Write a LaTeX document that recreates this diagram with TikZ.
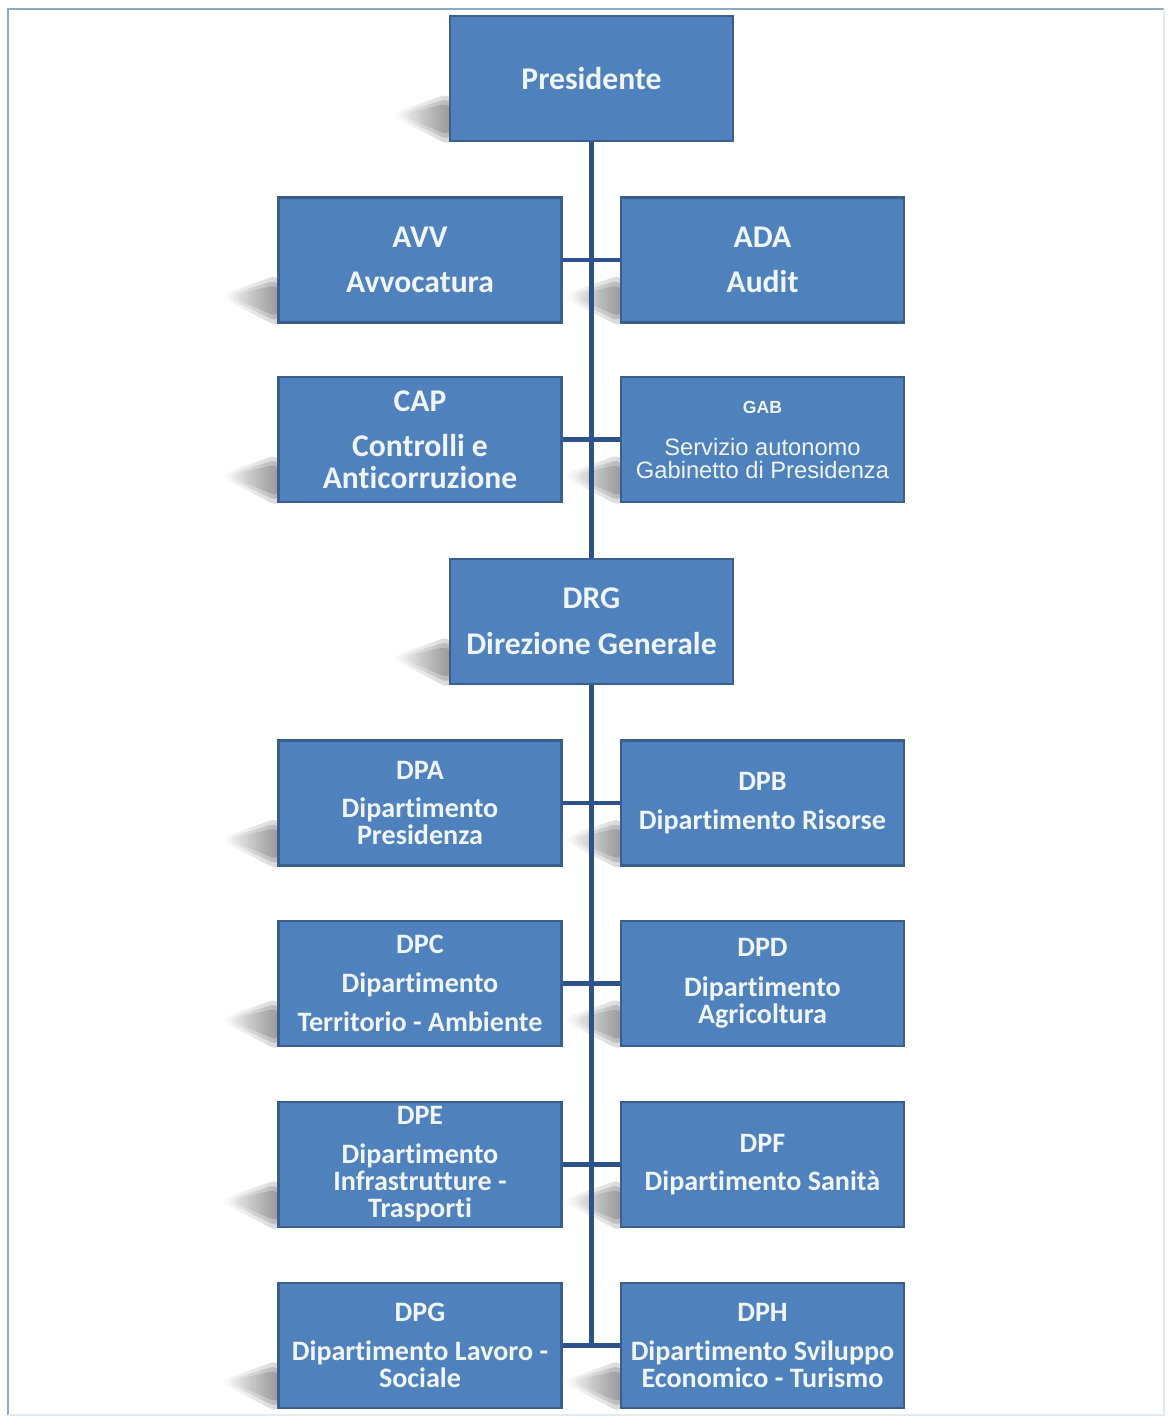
\documentclass[tikz,border=0pt]{standalone}
\usepackage{fontspec}
\setmainfont{Carlito}[Ligatures=NoCommon]
\newfontfamily\gabFont{Liberation Sans}
\usetikzlibrary{fadings}
\tikzstyle{orgChart} = [x = .02cm, y = -.02cm]
\definecolor{boxColor}{RGB}{79,129,189}
\definecolor{boxEdge}{RGB}{58,95,142}
\definecolor{lineColor}{RGB}{44,82,140}
\definecolor{labelColor}{RGB}{240,245,251}
\definecolor{frameColor}{RGB}{140,168,194}
\tikzstyle{boxStyle} = [fill=boxColor, draw=boxEdge, line width=1.2pt, minimum width=5.66cm, minimum height=2.5cm, inner sep=0pt, align=center, text=labelColor]
\tikzstyle{lineStyle} = [color=lineColor, line width=2.3pt]
\tikzstyle{shadowStyle} = [fill=black, opacity=.16, rounded corners=6, path fading=west]
\tikzstyle{frameStyle} = [color=frameColor, line width=1pt]
\newcommand{\bigText}{\fontsize{18}{20}\bfseries\selectfont}
\newcommand{\deptText}{\fontsize{16}{15.5}\bfseries\selectfont}
\newcommand{\smallText}{\gabFont\fontsize{13.5}{13}\selectfont}
\newcommand{\orgBox}[5]{
  \foreach \grow in {0,5,10} {
    \fill [shadowStyle] (#2 - 140, #3 + 24 - \grow) -- (#2 - 192 - \grow, #3 + 36) -- (#2 - 140, #3 + 58 + \grow) -- cycle;
  }
  \node [boxStyle, font=#4] (#1) at (#2, #3) {#5};
}

\begin{document}
\begin{tikzpicture}[orgChart]
  \useasboundingbox (0,0) rectangle (1168,1417);
  \draw [frameStyle] (8,1415) -- (8,9) -- (1164,9);
  \draw [frameStyle, color=frameColor!25] (1164,9) -- (1164,1415) -- (8,1415);

  % top of the chart
  \orgBox{pres}{591.5}{78.5}{\bigText}{Presidente}
  \orgBox{avv}{420}{260}{\bigText}{AVV\\[6pt]Avvocatura}
  \orgBox{ada}{762.5}{260}{\bigText}{ADA\\[6pt]Audit}
  \orgBox{cap}{420}{439.5}{\bigText}{CAP\\[6pt]Controlli e\\[-2pt]Anticorruzione}
  \orgBox{gab}{762.5}{439.5}{\smallText}{{\fontsize{10}{12}\bfseries\selectfont GAB}\\[11pt]Servizio autonomo\\Gabinetto di Presidenza}
  \orgBox{drg}{591.5}{621.5}{\bigText}{DRG\\[6pt]Direzione Generale}

  % departments
  \orgBox{dpa}{420}{803}{\deptText}{DPA\\[6pt]Dipartimento\\Presidenza}
  \orgBox{dpb}{762.5}{803}{\deptText}{DPB\\[6.5pt]Dipartimento Risorse}
  \orgBox{dpc}{420}{983.5}{\deptText}{DPC\\[6.5pt]Dipartimento\\[6.5pt]Territorio - Ambiente}
  \orgBox{dpd}{762.5}{983.5}{\deptText}{DPD\\[7pt]Dipartimento\\Agricoltura}
  \orgBox{dpe}{420}{1164.5}{\deptText}{DPE\\[6.5pt]Dipartimento\\Infrastrutture -\\Trasporti}
  \orgBox{dpf}{762.5}{1164.5}{\deptText}{DPF\\[6.5pt]Dipartimento Sanità}
  \orgBox{dpg}{420}{1345.5}{\deptText}{DPG\\[6.5pt]Dipartimento Lavoro -\\Sociale}
  \orgBox{dph}{762.5}{1345.5}{\deptText}{DPH\\[6.5pt]Dipartimento Sviluppo\\Economico - Turismo}

  % connectors
  \coordinate (trunkEnd) at (drg.south |- dpg.east);
  \draw [lineStyle] (pres) -- (drg);
  \draw [lineStyle] (avv) -- (ada);
  \draw [lineStyle] (cap) -- (gab);
  \draw [lineStyle] (drg) -- (trunkEnd);
  \draw [lineStyle] (dpa) -- (dpb);
  \draw [lineStyle] (dpc) -- (dpd);
  \draw [lineStyle] (dpe) -- (dpf);
  \draw [lineStyle] (dpg) -- (dph);
\end{tikzpicture}
\end{document}
